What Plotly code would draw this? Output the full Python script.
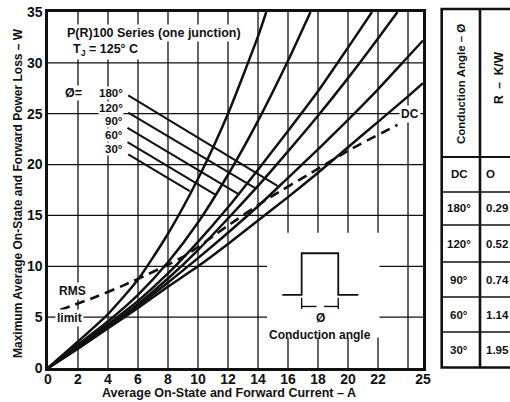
import plotly.graph_objects as go

# ---------------- data ----------------
cur_30 = [0, 2, 4, 6, 8, 10, 12, 14, 14.55]
pwr_30 = [0, 2.6, 5.3, 8.7, 13.2, 18.6, 25.0, 32.6, 35.0]

cur_60 = [0, 2, 4, 6, 8, 10, 12, 14, 16, 17.5]
pwr_60 = [0, 2.3, 4.6, 7.2, 10.4, 14.3, 19.0, 24.3, 30.2, 35.0]

cur_90 = [0, 2, 4, 6, 8, 10, 12, 14, 16, 18, 20, 21.6]
pwr_90 = [0, 2.1, 4.3, 6.6, 9.3, 12.4, 15.8, 19.5, 23.3, 27.2, 31.5, 35.0]

cur_120 = [0, 2, 4, 6, 8, 10, 12, 14, 16, 18, 20, 22, 23.3]
pwr_120 = [0, 2.0, 4.1, 6.3, 8.8, 11.6, 14.7, 17.9, 21.3, 24.8, 28.5, 32.4, 35.0]

cur_180 = [0, 2, 4, 6, 8, 10, 12, 14, 16, 18, 20, 22, 24, 25]
pwr_180 = [0, 1.95, 3.95, 6.1, 8.4, 10.8, 13.3, 15.9, 18.7, 21.5, 24.4, 27.4, 30.6, 32.2]

cur_dc = [0, 2, 4, 6, 8, 10, 12, 14, 16, 18, 20, 22, 24, 25]
pwr_dc = [0, 1.9, 3.9, 5.9, 8.0, 10.0, 12.2, 14.5, 16.8, 19.2, 21.7, 24.2, 26.7, 28.0]

rms_cur = [0.8, 3.2, 5.0, 7.5, 9.2, 11.9, 14.5, 17.9, 20.3, 23.3]
rms_pwr = [5.7, 7.0, 8.1, 9.8, 11.1, 13.9, 16.5, 19.5, 21.6, 23.9]

angle_labels = ["180°", "120°", "90°", "60°", "30°"]
lead_start_cur = [5.35, 5.35, 5.3, 5.3, 5.35]
lead_start_pwr = [26.8, 25.1, 23.6, 22.2, 21.0]
lead_end_cur = [15.3, 13.9, 12.7, 11.15, 9.45]
lead_end_pwr = [17.9, 17.6, 17.1, 17.05, 17.4]
label_pwr = [27.0, 25.6, 24.25, 22.9, 21.55]

x_tick_vals = [0, 2, 4, 6, 8, 10, 12, 14, 16, 18, 20, 22, 25]
y_tick_vals = [0, 5, 10, 15, 20, 25, 30, 35]
x_grid = [2, 4, 6, 8, 10, 12, 14, 16, 18, 20, 22, 24]
y_grid = [5, 10, 15, 20, 25, 30]

table_angles = ["DC", "180°", "120°", "90°", "60°", "30°"]
table_r = ["O", "0.29", "0.52", "0.74", "1.14", "1.95"]

# ---------------- geometry helpers ----------------
W, H = 510, 402
L, R, T, B = 48, 423, 12, 368
XMAX, YMAX = 25, 35


def px_x(px):
    return (px - L) / (R - L)


def px_y(py):
    return (B - py) / (B - T)


FONT = "Liberation Sans, Arial, Helvetica, sans-serif"
BLACK = "#111111"
NB = "\u00a0"

fig = go.Figure()

curve_w = 2.5
for cx, cy in [(cur_30, pwr_30), (cur_60, pwr_60), (cur_90, pwr_90),
               (cur_120, pwr_120), (cur_180, pwr_180), (cur_dc, pwr_dc)]:
    fig.add_trace(go.Scatter(x=cx, y=cy, mode="lines",
                             line=dict(color=BLACK, width=curve_w, shape="spline", smoothing=0.6),
                             hoverinfo="skip", showlegend=False))

fig.add_trace(go.Scatter(x=rms_cur, y=rms_pwr, mode="lines",
                         line=dict(color=BLACK, width=2.6, dash="10px,6px", shape="spline", smoothing=0.6),
                         hoverinfo="skip", showlegend=False))

for xs, ys, xe, ye in zip(lead_start_cur, lead_start_pwr, lead_end_cur, lead_end_pwr):
    fig.add_trace(go.Scatter(x=[xs, xe], y=[ys, ye], mode="lines",
                             line=dict(color=BLACK, width=2.0),
                             hoverinfo="skip", showlegend=False))

shapes = []
for gx in x_grid:
    shapes.append(dict(type="line", xref="x", yref="y", x0=gx, x1=gx, y0=0, y1=YMAX,
                       line=dict(color=BLACK, width=1.3), layer="below"))
for gy in y_grid:
    shapes.append(dict(type="line", xref="x", yref="y", x0=0, x1=XMAX, y0=gy, y1=gy,
                       line=dict(color=BLACK, width=1.3), layer="below"))
shapes.append(dict(type="rect", xref="x", yref="y", x0=14.6, x1=22.1, y0=3.0, y1=13.3,
                   fillcolor="white", line=dict(width=0), layer="below"))
shapes.append(dict(type="path", xref="x", yref="y",
                   path="M 15.62,7.18 L 16.91,7.18 L 16.91,11.28 L 19.35,11.28 L 19.35,7.18 L 20.69,7.18",
                   line=dict(color=BLACK, width=1.8)))
for bx in [16.91, 19.35]:
    shapes.append(dict(type="line", xref="x", yref="y", x0=bx, x1=bx, y0=5.8, y1=6.9,
                       line=dict(color=BLACK, width=1.4)))
shapes.append(dict(type="line", xref="x", yref="y", x0=16.91, x1=17.9, y0=6.05, y1=6.05,
                   line=dict(color=BLACK, width=1.4)))
shapes.append(dict(type="line", xref="x", yref="y", x0=18.4, x1=19.35, y0=6.05, y1=6.05,
                   line=dict(color=BLACK, width=1.4)))

tx0, tx1, tx2 = px_x(441.7), px_x(480), px_x(520)
ty_top, ty_head, ty_bot = px_y(9), px_y(157), px_y(367.5)
row_lines = [192, 225, 262, 297, 332]
shapes.append(dict(type="rect", xref="paper", yref="paper", x0=tx0, x1=tx2, y0=ty_bot, y1=ty_top,
                   line=dict(color=BLACK, width=2.6)))
shapes.append(dict(type="line", xref="paper", yref="paper", x0=tx1, x1=tx1, y0=ty_bot, y1=ty_top,
                   line=dict(color=BLACK, width=2.6)))
shapes.append(dict(type="line", xref="paper", yref="paper", x0=tx0, x1=tx2, y0=ty_head, y1=ty_head,
                   line=dict(color=BLACK, width=2.0)))
for ry in row_lines:
    shapes.append(dict(type="line", xref="paper", yref="paper", x0=tx0, x1=tx2, y0=px_y(ry), y1=px_y(ry),
                       line=dict(color=BLACK, width=1.5)))

ann = []


def text(x, y, s, size=12, xanchor="center", yanchor="middle", xref="x", yref="y", bg=None, angle=0,
         bold=True, pad=1):
    d = dict(x=x, y=y, xref=xref, yref=yref, text=s, showarrow=False,
             font=dict(family=FONT, size=size, color=BLACK, weight="bold" if bold else "normal"),
             xanchor=xanchor, yanchor=yanchor, textangle=angle, borderpad=pad)
    if bg:
        d["bgcolor"] = bg
    ann.append(d)


text(1.1, 32.9, "P(R)100 Series (one junction)", size=12.5, xanchor="left", bg="white")
text(1.55, 31.3, "T<sub>J</sub> = 125° C", size=12.5, xanchor="left", bg="white")
text(1.05, label_pwr[0], "Ø=", size=12.5, xanchor="left", bg="white", pad=0)
for lab, py in zip(angle_labels, label_pwr):
    text(5.05, py, lab, size=11.5, xanchor="right", bg="white", pad=0)
text(1.65, 7.6, "RMS", size=12, bg="white")
text(1.4, 4.9, "limit", size=12, bg="white")
text(24.1, 25.0, "DC", size=12, bg="white")
text(18.15, 4.95, "Ø", size=12)
text(18.15, 3.25, "Conduction angle", size=12)

text(px_x(229), px_y(392.5), "Average On-State and Forward Current – A", size=12.5,
     xref="paper", yref="paper")
text(px_x(18), px_y(193), "Maximum Average On-State and Forward Power Loss – W", size=12,
     xref="paper", yref="paper", angle=-90)

text(px_x(461), px_y(84), "Conduction Angle – Ø", size=11.5, xref="paper", yref="paper", angle=-90)
text(px_x(499), px_y(78), "R" + NB * 2 + "–" + NB * 2 + "K/W", size=12, xref="paper", yref="paper", angle=-90)
row_centers = [174, 208.5, 243.5, 279.5, 314.5, 349.5]
for a, r, rc in zip(table_angles, table_r, row_centers):
    text(px_x(459), px_y(rc), a, size=11.5, xref="paper", yref="paper")
    text(px_x(484), px_y(rc), r, size=11.5, xref="paper", yref="paper", xanchor="left")

tickfont = dict(size=14, family=FONT, color=BLACK, weight="bold")
fig.update_layout(
    template="none",
    width=W, height=H,
    margin=dict(l=L, r=W - R, t=T, b=H - B, pad=0, autoexpand=False),
    paper_bgcolor="white", plot_bgcolor="white",
    showlegend=False,
    shapes=shapes, annotations=ann,
    font=dict(family=FONT, color=BLACK),
    xaxis=dict(range=[0, XMAX], tickvals=x_tick_vals, ticktext=[str(v) for v in x_tick_vals],
               showgrid=False, zeroline=False, showline=True, mirror=True, automargin=False,
               linecolor=BLACK, linewidth=2.6, ticks="", ticklabelstandoff=-3,
               tickfont=tickfont, fixedrange=True),
    yaxis=dict(range=[0, YMAX], tickvals=y_tick_vals, ticktext=[str(v) for v in y_tick_vals],
               showgrid=False, zeroline=False, showline=True, mirror=True, automargin=False,
               linecolor=BLACK, linewidth=2.6, ticks="", tickfont=tickfont, fixedrange=True),
)

fig.write_html("out.html", config={"displayModeBar": False, "staticPlot": True},
               post_script="document.body.style.margin='0';document.body.style.overflow='hidden';")
